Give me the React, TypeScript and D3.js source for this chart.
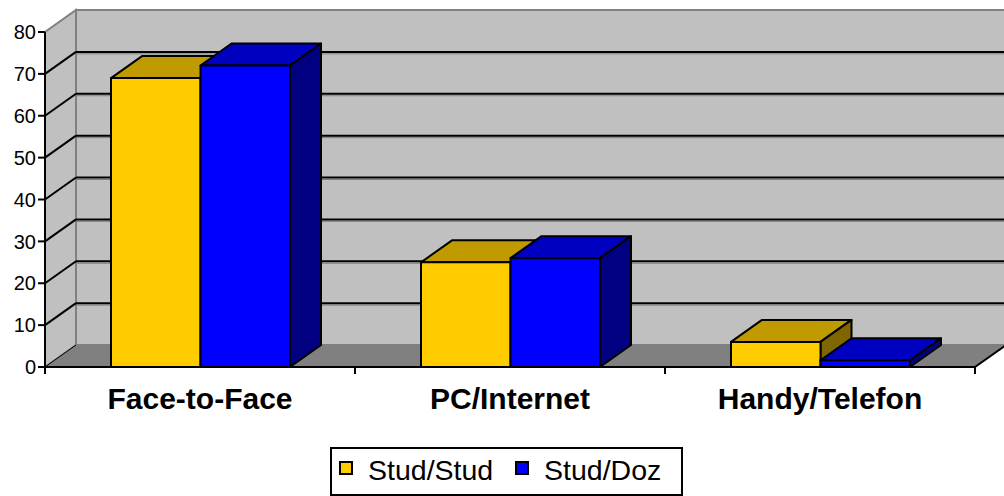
import React from 'react';
import * as d3 from 'd3';

const categories = ['Face-to-Face', 'PC/Internet', 'Handy/Telefon'];
const seriesNames = ['Stud/Stud', 'Stud/Doz'];
const studStud = [69, 25, 6];
const studDoz = [72, 26, 1.6];
const yTicks = [0, 10, 20, 30, 40, 50, 60, 70, 80];

const W = 1004;
const H = 496;
const DX = 31;
const DY = -22;

const colors = [
  { front: '#FFCC00', top: '#C09B00', side: '#806600' },
  { front: '#0000FF', top: '#0000C0', side: '#000080' },
];

const App: React.FC = () => {
  const y = d3.scaleLinear().domain([0, 80]).range([367, 32]);
  const x0 = d3.scaleBand<string>().domain(categories).range([45, 975]);
  const x1 = d3.scaleBand<string>().domain(seriesNames).range([66, 245]);
  const values = [studStud, studDoz];
  const font = '"Liberation Sans", Arial, sans-serif';

  const left = 45, right = 975, base = y(0), top = y(80);

  const pts = (p: [number, number][]) => p.map(d => d.join(',')).join(' ');

  const bars: React.ReactNode[] = [];
  categories.forEach((c, ci) => {
    seriesNames.forEach((s, si) => {
      const bx = (x0(c) ?? 0) + (x1(s) ?? 0);
      const bw = x1.bandwidth();
      const by = y(values[si][ci]);
      const col = colors[si];
      bars.push(
        <g key={c + s} stroke="#000" strokeWidth={2} strokeLinejoin="round">
          <polygon points={pts([[bx, by], [bx + bw, by], [bx + bw + DX, by + DY], [bx + DX, by + DY]])} fill={col.top} />
          <polygon points={pts([[bx + bw, by], [bx + bw, base], [bx + bw + DX, base + DY], [bx + bw + DX, by + DY]])} fill={col.side} />
          <rect x={bx} y={by} width={bw} height={base - by} fill={col.front} />
        </g>
      );
    });
  });

  return (
    <div style={{ position: 'absolute', left: 0, top: 0 }}>
      <svg width={W} height={H} style={{ display: 'block', background: '#fff' }}>
        {/* left wall */}
        <polygon points={pts([[left, base], [left + DX, base + DY], [left + DX, top + DY], [left, top]])}
          fill="#C0C0C0" stroke="#808080" strokeWidth={2} />
        {/* back wall */}
        <rect x={left + DX} y={top + DY} width={W} height={base - top} fill="#C0C0C0" stroke="#808080" strokeWidth={2} />
        {/* floor */}
        <polygon points={pts([[left, base], [right, base], [right + DX, base + DY], [left + DX, base + DY]])}
          fill="#808080" stroke="#808080" strokeWidth={1} />
        {/* gridlines */}
        {yTicks.filter(t => t > 0 && t < 80).map(t => (
          <g key={t}>
            <line x1={left + DX} y1={y(t) + DY + 2} x2={W} y2={y(t) + DY + 2} stroke="#808080" strokeWidth={1} />
            <g stroke="#000" strokeWidth={2}>
              <line x1={left} y1={y(t)} x2={left + DX} y2={y(t) + DY} />
              <line x1={left + DX} y1={y(t) + DY} x2={W} y2={y(t) + DY} />
            </g>
          </g>
        ))}
        {/* floor edges */}
        <line x1={right} y1={base} x2={right + DX} y2={base + DY} stroke="#000" strokeWidth={2} />
        <line x1={left} y1={base} x2={left + DX} y2={base + DY} stroke="#000" strokeWidth={1} />
        {bars}
        {/* y axis */}
        <line x1={left} y1={top} x2={left} y2={base} stroke="#000" strokeWidth={2} />
        {yTicks.map(t => (
          <g key={t}>
            <line x1={left - 7} y1={y(t)} x2={left} y2={y(t)} stroke="#000" strokeWidth={2} />
            <text x={36} y={y(t)} dy="0.36em" textAnchor="end" fontFamily={font} fontSize={20}>{t}</text>
          </g>
        ))}
        {/* x axis */}
        <line x1={left} y1={base} x2={right} y2={base} stroke="#000" strokeWidth={2} />
        {[...categories.map(c => x0(c) ?? 0), right].map((v, i) => (
          <line key={i} x1={v} y1={base} x2={v} y2={base + 7} stroke="#000" strokeWidth={2} />
        ))}
        {categories.map(c => (
          <text key={c} x={(x0(c) ?? 0) + x0.bandwidth() / 2} y={409} textAnchor="middle"
            fontFamily={font} fontSize={30} fontWeight="bold">{c}</text>
        ))}
        {/* legend */}
        <rect x={331} y={448} width={351} height={47} fill="#fff" stroke="#000" strokeWidth={2} />
        {seriesNames.map((s, i) => {
          const lx = i === 0 ? 340 : 516;
          return (
            <g key={s}>
              <rect x={lx} y={462} width={12} height={12} fill={colors[i].front} stroke="#000" strokeWidth={2} />
              <text x={lx + 28} y={480} fontFamily={font} fontSize={28.5}>{s}</text>
            </g>
          );
        })}
      </svg>
    </div>
  );
};

export default App;
